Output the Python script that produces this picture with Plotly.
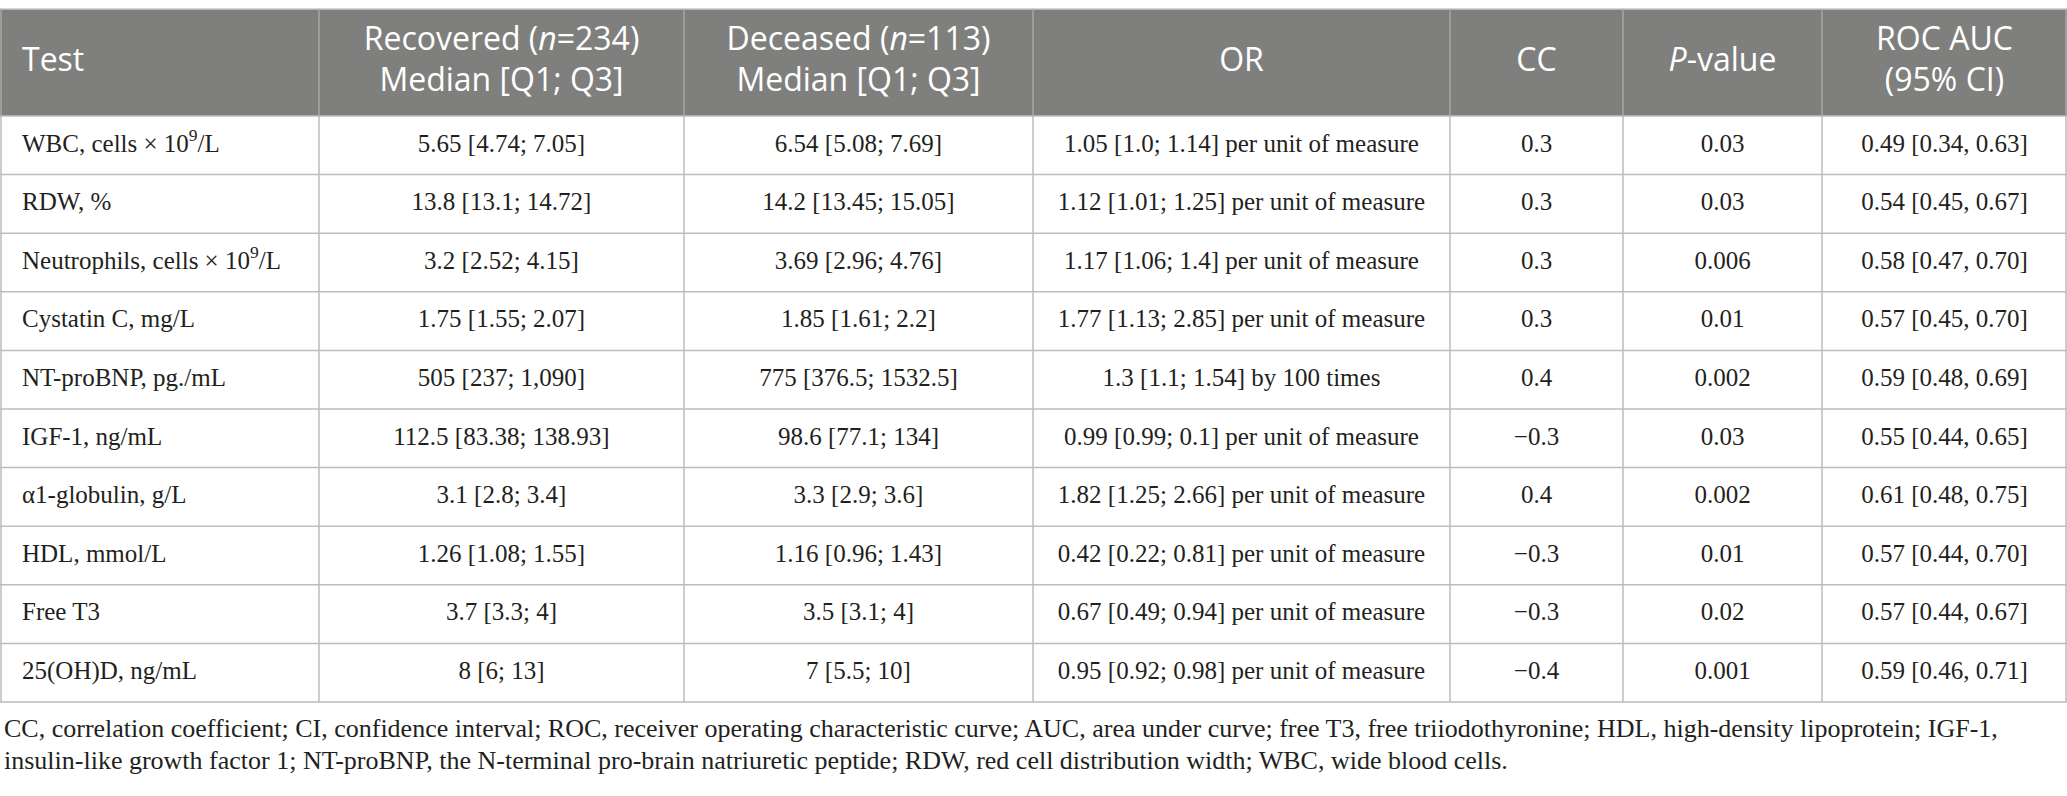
import plotly.graph_objects as go

# Table contents
headers = [
    "Test",
    "Recovered (<i>n</i>=234)<br>Median [Q1; Q3]",
    "Deceased (<i>n</i>=113)<br>Median [Q1; Q3]",
    "OR",
    "CC",
    "<i>P</i>-value",
    "ROC AUC<br>(95% CI)",
]
tests = [
    "WBC, cells × 10<sup>9</sup>/L",
    "RDW, %",
    "Neutrophils, cells × 10<sup>9</sup>/L",
    "Cystatin C, mg/L",
    "NT-proBNP, pg./mL",
    "IGF-1, ng/mL",
    "α1-globulin, g/L",
    "HDL, mmol/L",
    "Free T3",
    "25(OH)D, ng/mL",
]
recovered = [
    "5.65 [4.74; 7.05]", "13.8 [13.1; 14.72]", "3.2 [2.52; 4.15]", "1.75 [1.55; 2.07]",
    "505 [237; 1,090]", "112.5 [83.38; 138.93]", "3.1 [2.8; 3.4]", "1.26 [1.08; 1.55]",
    "3.7 [3.3; 4]", "8 [6; 13]",
]
deceased = [
    "6.54 [5.08; 7.69]", "14.2 [13.45; 15.05]", "3.69 [2.96; 4.76]", "1.85 [1.61; 2.2]",
    "775 [376.5; 1532.5]", "98.6 [77.1; 134]", "3.3 [2.9; 3.6]", "1.16 [0.96; 1.43]",
    "3.5 [3.1; 4]", "7 [5.5; 10]",
]
odds_ratio = [
    "1.05 [1.0; 1.14] per unit of measure", "1.12 [1.01; 1.25] per unit of measure",
    "1.17 [1.06; 1.4] per unit of measure", "1.77 [1.13; 2.85] per unit of measure",
    "1.3 [1.1; 1.54] by 100 times", "0.99 [0.99; 0.1] per unit of measure",
    "1.82 [1.25; 2.66] per unit of measure", "0.42 [0.22; 0.81] per unit of measure",
    "0.67 [0.49; 0.94] per unit of measure", "0.95 [0.92; 0.98] per unit of measure",
]
cc = ["0.3", "0.3", "0.3", "0.3", "0.4", "−0.3", "0.4", "−0.3", "−0.3", "−0.4"]
p_value = ["0.03", "0.03", "0.006", "0.01", "0.002", "0.03", "0.002", "0.01", "0.02", "0.001"]
roc_auc = [
    "0.49 [0.34, 0.63]", "0.54 [0.45, 0.67]", "0.58 [0.47, 0.70]", "0.57 [0.45, 0.70]",
    "0.59 [0.48, 0.69]", "0.55 [0.44, 0.65]", "0.61 [0.48, 0.75]", "0.57 [0.44, 0.70]",
    "0.57 [0.44, 0.67]", "0.59 [0.46, 0.71]",
]
footnotes = [
    "CC, correlation coefficient; CI, confidence interval; ROC, receiver operating characteristic curve; "
    "AUC, area under curve; free T3, free triiodothyronine; HDL, high-density lipoprotein; IGF-1,",
    "insulin-like growth factor 1; NT-proBNP, the N-terminal pro-brain natriuretic peptide; "
    "RDW, red cell distribution width; WBC, wide blood cells.",
]

columns = [tests, recovered, deceased, odds_ratio, cc, p_value, roc_auc]

# layout (pixel units)
W, H = 2067, 796
col_widths = [319, 365, 349, 417, 173, 199, 245]
HEADER_TOP, HEADER_H = 9, 107
ROW_H = 58.6
PAD = 22
BODY_TOP = HEADER_TOP + HEADER_H
n_rows = len(tests)
BODY_BOTTOM = BODY_TOP + n_rows * ROW_H

edges = [0]
for w in col_widths:
    edges.append(edges[-1] + w)

def text_x(j):
    return edges[j] + PAD if j == 0 else (edges[j] + edges[j + 1]) / 2

def text_pos(j):
    return "middle right" if j == 0 else "middle center"

fig = go.Figure()

# header text
hy = HEADER_TOP + HEADER_H / 2
fig.add_trace(go.Scatter(
    x=[text_x(j) for j in range(len(headers))],
    y=[hy] * len(headers),
    text=headers,
    mode="text",
    textposition=[text_pos(j) for j in range(len(headers))],
    textfont=dict(family="Open Sans", size=32, color="white"),
    hoverinfo="skip", showlegend=False, cliponaxis=False,
))

# body text
bx, by, bt, bp = [], [], [], []
for j, col in enumerate(columns):
    for i, val in enumerate(col):
        bx.append(text_x(j))
        by.append(BODY_TOP + (i + 0.5) * ROW_H)
        bt.append(val)
        bp.append(text_pos(j))
fig.add_trace(go.Scatter(
    x=bx, y=by, text=bt, mode="text", textposition=bp,
    textfont=dict(family="Liberation Serif", size=25, color="#231f20"),
    hoverinfo="skip", showlegend=False, cliponaxis=False,
))

# grid
shapes = [dict(type="rect", x0=0, x1=W, y0=HEADER_TOP, y1=BODY_TOP,
               fillcolor="#7f807e", line=dict(width=0), layer="below")]
line_col = "#bdbdbd"
shapes.append(dict(type="line", x0=0, x1=W, y0=HEADER_TOP, y1=HEADER_TOP,
                   line=dict(color="#c8c8c8", width=1.5)))
for i in range(n_rows + 1):
    yy = BODY_TOP + i * ROW_H
    shapes.append(dict(type="line", x0=0, x1=W, y0=yy, y1=yy,
                       line=dict(color=line_col, width=1.5)))
for k, xx in enumerate(edges):
    xx = min(max(xx, 1), W - 1)
    shapes.append(dict(type="line", x0=xx, x1=xx, y0=HEADER_TOP, y1=BODY_TOP,
                       line=dict(color="#a6a6a6", width=1.5)))
    shapes.append(dict(type="line", x0=xx, x1=xx, y0=BODY_TOP, y1=BODY_BOTTOM,
                       line=dict(color=line_col, width=1.5)))

# footnotes
annotations = []
for k, note in enumerate(footnotes):
    annotations.append(dict(
        x=2, y=BODY_BOTTOM + 26 + k * 32, xref="x", yref="y",
        text=note, showarrow=False, xanchor="left", yanchor="middle",
        font=dict(family="Liberation Serif", size=26, color="#231f20"),
    ))

fig.update_layout(
    width=W, height=H,
    margin=dict(l=0, r=0, t=0, b=0),
    paper_bgcolor="white", plot_bgcolor="white",
    shapes=shapes, annotations=annotations,
    xaxis=dict(range=[0, W], visible=False, fixedrange=True),
    yaxis=dict(range=[H, 0], visible=False, fixedrange=True),
)

# drop the browser's default body margin so the figure sits at the page corner
fig.write_html(
    "out.html",
    config={"displayModeBar": False},
    post_script="document.body.style.margin='0';document.body.style.overflow='hidden';",
)
